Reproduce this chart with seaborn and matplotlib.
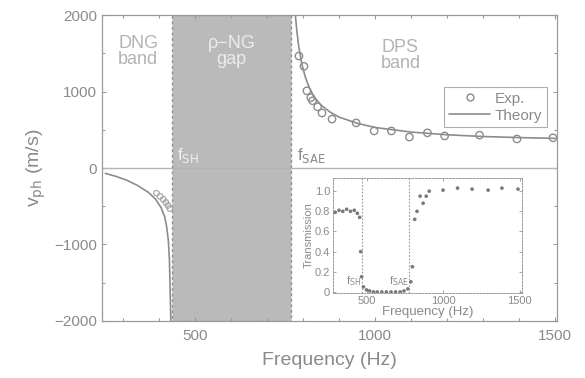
import numpy as np
import pandas as pd
import matplotlib
matplotlib.use("Agg")
import matplotlib.pyplot as plt
from matplotlib.ticker import MultipleLocator
from matplotlib.lines import Line2D
import seaborn as sns

# ---- data -------------------------------------------------------------
f_sh, f_sae = 435, 765           # band-gap edges (Hz)

# DPS band: measured phase velocity
dps_f = [788, 802, 810, 821, 826, 840, 852, 880, 947, 997, 1045, 1095, 1145, 1193, 1290, 1394, 1494]
dps_v = [1465, 1330, 1010, 920, 880, 800, 720, 640, 590, 485, 485, 405, 460, 420, 430, 380, 395]

# DPS band: theory
dps_th_f = [778, 782, 787, 795, 805, 815, 830, 850, 875, 900, 950, 1000, 1100, 1200, 1300, 1400, 1500]
dps_th_v = [2000, 1800, 1600, 1380, 1200, 1070, 930, 820, 730, 665, 585, 530, 470, 435, 412, 398, 388]

# DNG band: measured (negative phase velocity)
dng_f = [392, 402, 411, 418, 424, 429]
dng_v = [-330, -370, -410, -450, -490, -530]

# DNG band: theory
dng_th_f = [250, 280, 310, 340, 370, 390, 405, 415, 420, 425, 428, 430, 432]
dng_th_v = [-70, -110, -160, -230, -320, -410, -520, -640, -760, -950, -1200, -1600, -2000]

# transmission inset
tr_f = [295, 320, 345, 370, 395, 420, 440, 455, 462, 468, 480, 500, 520, 545, 570, 600, 630,
        660, 690, 720, 745, 770, 790, 800, 815, 830, 850, 870, 890, 910, 1000, 1095, 1190,
        1295, 1385, 1490]
tr_t = [0.79, 0.81, 0.80, 0.82, 0.80, 0.81, 0.78, 0.74, 0.40, 0.15, 0.05, 0.02, 0.01, 0.0, 0.0,
        0.0, 0.0, 0.0, 0.0, 0.0, 0.01, 0.03, 0.10, 0.25, 0.72, 0.80, 0.95, 0.88, 0.95, 1.0,
        1.01, 1.03, 1.02, 1.01, 1.03, 1.02]

x_ticks = [500, 1000, 1500]
y_ticks = [-2000, -1000, 0, 1000, 2000]

# ---- style ------------------------------------------------------------
sns.set_theme(style="ticks")
plt.rcParams["font.family"] = ["Liberation Sans", "DejaVu Sans"]
txt = "#8a8a8a"
edge = "#9a9a9a"
plt.rcParams.update({
    "axes.edgecolor": edge, "xtick.color": edge, "ytick.color": edge,
    "xtick.labelcolor": txt, "ytick.labelcolor": txt, "axes.labelcolor": txt,
    "xtick.direction": "in", "ytick.direction": "in",
})

fig = plt.figure(figsize=(5.85, 3.78), dpi=100)
ax = fig.add_axes([0.174, 0.151, 0.778, 0.809])

# band gap shading
ax.axvspan(f_sh, f_sae, facecolor="#bababa", edgecolor="#8f8f8f", ls=(0, (2, 2)), lw=1.0, zorder=0)
ax.axhline(0, color="#b4b4b4", lw=1.0, zorder=1)

dps = pd.DataFrame({"f": dps_f, "v": dps_v})
dps_th = pd.DataFrame({"f": dps_th_f, "v": dps_th_v})
dng = pd.DataFrame({"f": dng_f, "v": dng_v})
dng_th = pd.DataFrame({"f": dng_th_f, "v": dng_th_v})

line_c = "#8c8c8c"
sns.lineplot(data=dps_th, x="f", y="v", ax=ax, color=line_c, lw=1.2, sort=False, zorder=3)
sns.lineplot(data=dng_th, x="f", y="v", ax=ax, color=line_c, lw=1.2, sort=False, zorder=3)
sns.scatterplot(data=dps, x="f", y="v", ax=ax, marker="o", s=28, facecolor="none",
                edgecolor=line_c, linewidth=1.0, zorder=4)
sns.scatterplot(data=dng, x="f", y="v", ax=ax, marker="o", s=16, facecolor="none",
                edgecolor="#a8a8a8", linewidth=0.9, zorder=4)

ax.set_xlim(240, 1505)
ax.set_ylim(-2000, 2000)
ax.set_xticks(x_ticks)
ax.set_yticks(y_ticks)
ax.xaxis.set_minor_locator(MultipleLocator(100))
ax.yaxis.set_minor_locator(MultipleLocator(500))
ax.tick_params(which="both", top=True, right=True, labelsize=11, length=3, width=0.8)
ax.tick_params(which="minor", length=2)
ax.tick_params(axis="x", pad=6)
for s in ax.spines.values():
    s.set_linewidth(0.9)
ax.set_xlabel("Frequency (Hz)", fontsize=14, labelpad=6)
ax.set_ylabel(r"v$_{\rm ph}$ (m/s)", fontsize=14, labelpad=4)

# region annotations
ax.text(341, 1520, "DNG\nband", color="#b3b3b3", fontsize=13, ha="center", va="center",
        linespacing=0.95)
ax.text(600, 1520, "\u03c1\u2212NG\ngap", color="#ececec", fontsize=13, ha="center",
        va="center", linespacing=0.95)
ax.text(1070, 1470, "DPS\nband", color="#b3b3b3", fontsize=13, ha="center", va="center",
        linespacing=0.95)
ax.text(448, 40, r"f$_{\rm SH}$", color="#efefef", fontsize=12, ha="left", va="bottom")
ax.text(783, 40, r"f$_{\rm SAE}$", color=txt, fontsize=12, ha="left", va="bottom")

handles = [Line2D([], [], ls="none", marker="o", mfc="none", mec=line_c, ms=5, mew=1.0),
           Line2D([], [], color=line_c, lw=1.2)]
leg = ax.legend(handles, ["Exp.", "Theory"], loc="upper right", bbox_to_anchor=(0.978, 0.765),
                frameon=True, fancybox=False, fontsize=11, handlelength=2.7,
                borderpad=0.3, labelspacing=0.2, handletextpad=0.3, borderaxespad=0)
leg.get_frame().set_edgecolor(edge)
leg.get_frame().set_linewidth(0.8)
for t in leg.get_texts():
    t.set_color(txt)

# ---- transmission inset ----------------------------------------------
ins = fig.add_axes([0.569, 0.225, 0.323, 0.304])
ins.axvline(470, color="#9a9a9a", lw=0.8, ls=(0, (1.5, 1.5)))
ins.axvline(780, color="#9a9a9a", lw=0.8, ls=(0, (1.5, 1.5)))
tr = pd.DataFrame({"f": tr_f, "T": tr_t})
sns.scatterplot(data=tr, x="f", y="T", ax=ins, marker="o", s=7, color="#7a7a7a",
                edgecolor="none", zorder=3)
ins.set_xlim(280, 1515)
ins.set_ylim(-0.01, 1.13)
ins.set_xticks([500, 1000, 1500])
ins.set_yticks([0, 0.2, 0.4, 0.6, 0.8, 1.0])
ins.set_yticklabels(["0", "0.2", "0.4", "0.6", "0.8", "1.0"])
ins.tick_params(which="both", labelsize=8, length=2, width=0.6, top=True, right=True, pad=2)
for s in ins.spines.values():
    s.set_linewidth(0.7)
    s.set_linestyle((0, (2, 1.5)))
ins.set_xlabel("Frequency (Hz)", fontsize=9.5, labelpad=0)
ins.set_ylabel("Transmission", fontsize=8, labelpad=1)
ins.text(365, 0.04, r"f$_{\rm SH}$", color=txt, fontsize=8, ha="left", va="bottom")
ins.text(650, 0.04, r"f$_{\rm SAE}$", color=txt, fontsize=8, ha="left", va="bottom")

fig.savefig("out.png", dpi=100)
